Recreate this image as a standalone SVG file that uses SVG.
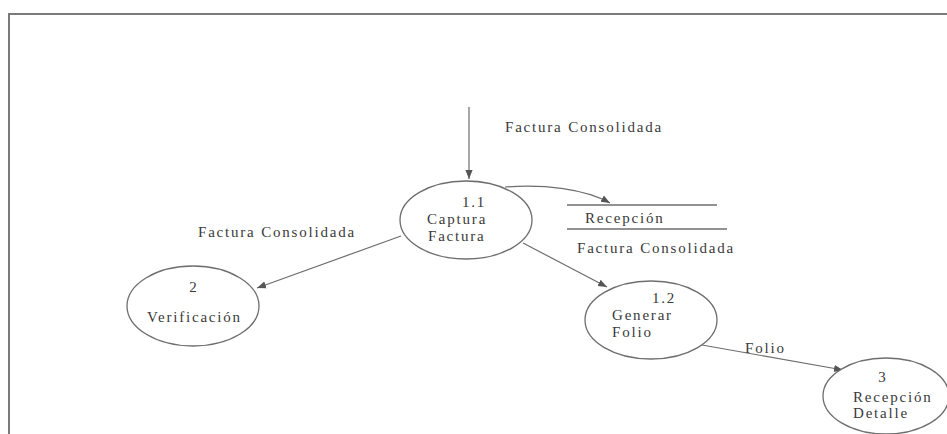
<svg xmlns="http://www.w3.org/2000/svg" width="947" height="434" viewBox="0 0 947 434">
  <style>
    .bg { fill: #ffffff; }
    .frame { fill: none; stroke: #7a7a7a; stroke-width: 2; }
    .proc { fill: #ffffff; stroke: #6e6e6e; stroke-width: 1.3; }
    .flow { fill: none; stroke: #6e6e6e; stroke-width: 1.2; }
    .store { stroke: #6e6e6e; stroke-width: 1.3; }
    text { font-family: "Liberation Serif", "Times New Roman", serif; font-size: 15px; fill: #3a3a3a; letter-spacing: 1.8px; }
    .mid { text-anchor: middle; }
  </style>
  <defs>
    <marker id="arrow" viewBox="0 0 10 10" refX="10" refY="5" markerWidth="9" markerHeight="9" markerUnits="userSpaceOnUse" orient="auto">
      <path d="M0,1 L10,5 L0,9 Z" fill="#555555"/>
    </marker>
  </defs>

  <rect class="bg" x="0" y="0" width="947" height="434"/>

  <!-- page frame -->
  <path class="frame" d="M9,434 V14 H947"/>

  <!-- data flows -->
  <g id="connectors">
    <line class="flow" x1="469" y1="107" x2="469" y2="179" marker-end="url(#arrow)"/>
    <path class="flow" d="M505,187 C545,184 585,189 610,203" marker-end="url(#arrow)"/>
    <line class="flow" x1="401" y1="236" x2="257" y2="288" marker-end="url(#arrow)"/>
    <line class="flow" x1="523" y1="243" x2="607" y2="287" marker-end="url(#arrow)"/>
    <line class="flow" x1="702" y1="345" x2="843" y2="370" marker-end="url(#arrow)"/>
    <text x="505" y="132">Factura Consolidada</text>
    <text x="198" y="237">Factura Consolidada</text>
    <text x="577" y="253">Factura Consolidada</text>
    <text x="745" y="353">Folio</text>
  </g>

  <!-- process 1.1 -->
  <g id="p1-1">
    <ellipse class="proc" cx="466" cy="220" rx="66" ry="39"/>
    <text x="462" y="207">1.1</text>
    <text x="427" y="224">Captura</text>
    <text x="428" y="241">Factura</text>
  </g>

  <!-- data store -->
  <g id="store-recepcion">
    <line class="store" x1="567" y1="205" x2="717" y2="205"/>
    <line class="store" x1="567" y1="229" x2="727" y2="229"/>
    <text x="585" y="223">Recepción</text>
  </g>

  <!-- process 2 -->
  <g id="p2">
    <ellipse class="proc" cx="193" cy="306" rx="66" ry="40"/>
    <text class="mid" x="194" y="292">2</text>
    <text x="147" y="322">Verificación</text>
  </g>

  <!-- process 1.2 -->
  <g id="p1-2">
    <ellipse class="proc" cx="651" cy="320" rx="66" ry="39"/>
    <text x="652" y="303">1.2</text>
    <text x="612" y="320">Generar</text>
    <text x="612" y="337">Folio</text>
  </g>

  <!-- process 3 -->
  <g id="p3">
    <ellipse class="proc" cx="886" cy="396" rx="63" ry="38"/>
    <text class="mid" x="883" y="382">3</text>
    <text x="853" y="402">Recepción</text>
    <text x="853" y="418">Detalle</text>
  </g>
</svg>
